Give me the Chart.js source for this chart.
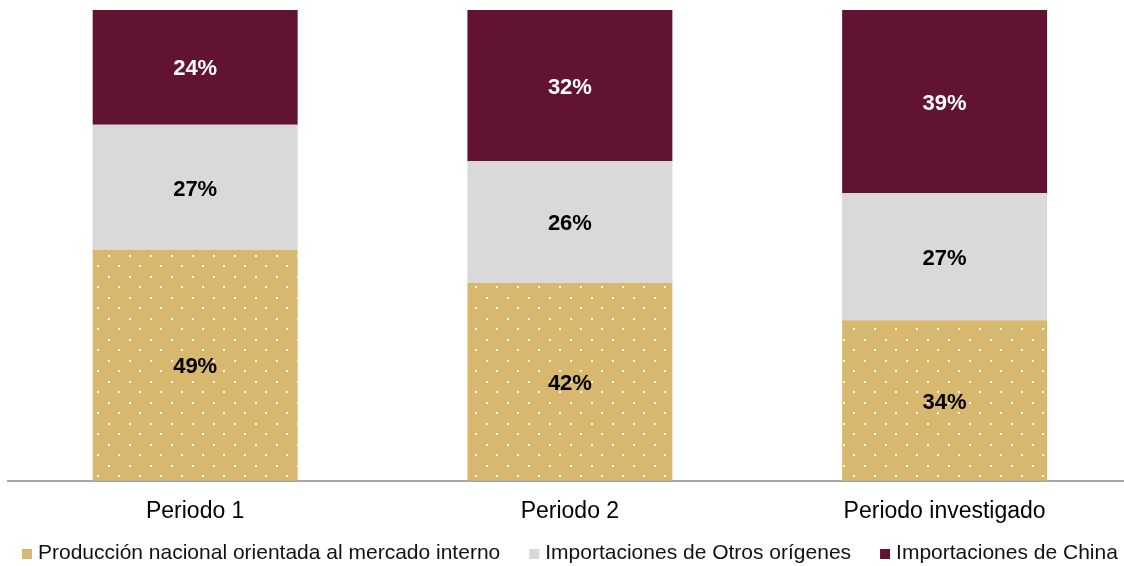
<!DOCTYPE html>
<html><head><meta charset="utf-8">
<script src="https://cdn.jsdelivr.net/npm/chart.js@4"></script>
<style>html,body{margin:0;padding:0;overflow:hidden;background:#fff}</style>
</head>
<body>
<canvas id="c" width="1134" height="566"></canvas>
<script>
const categories = ['Periodo 1', 'Periodo 2', 'Periodo investigado'];
const seriesNames = ['Producción nacional orientada al mercado interno', 'Importaciones de Otros orígenes', 'Importaciones de China'];
const produccion = [49.0, 42.0, 34.1];
const otros = [26.6, 25.9, 27.0];
const china = [24.4, 32.1, 38.9];

const TAN = '#D8B76F';
const GRAY = '#D9D9D9';
const WINE = '#621333';
const FONT = '"Liberation Sans", Arial, sans-serif';

function dotPattern() {
  const t = document.createElement('canvas');
  t.width = 21; t.height = 21;
  const g = t.getContext('2d');
  g.fillStyle = TAN; g.fillRect(0, 0, 21, 21);
  g.fillStyle = 'rgba(255,255,255,0.92)';
  g.fillRect(3, 3, 2, 2);
  g.fillRect(13, 13, 2, 2);
  return document.getElementById('c').getContext('2d').createPattern(t, 'repeat');
}

const labelPlugin = {
  id: 'segLabels',
  afterDatasetsDraw(chart) {
    const ctx = chart.ctx;
    ctx.save();
    ctx.font = 'bold 22px ' + FONT;
    ctx.textAlign = 'center';
    ctx.textBaseline = 'middle';
    chart.data.datasets.forEach((ds, di) => {
      const meta = chart.getDatasetMeta(di);
      meta.data.forEach((el, i) => {
        ctx.fillStyle = di === 2 ? '#FFFFFF' : '#000000';
        ctx.fillText(Math.round(ds.data[i]) + '%', el.x, (el.y + el.base) / 2 + 2);
      });
    });
    ctx.restore();
  }
};

const legendPlugin = {
  id: 'customLegend',
  afterDraw(chart) {
    const ctx = chart.ctx;
    const cols = [TAN, GRAY, WINE];
    const box = 10, gapText = 6, gapItem = 29, yC = 553;
    ctx.save();
    ctx.font = '21px ' + FONT;
    ctx.textBaseline = 'middle';
    ctx.textAlign = 'left';
    const widths = chart.data.datasets.map(d => ctx.measureText(d.label).width);
    const total = widths.reduce((a, w) => a + box + gapText + w, 0) + gapItem * (widths.length - 1);
    const cx = (chart.chartArea.left + chart.chartArea.right) / 2;
    let x = cx - total / 2;
    chart.data.datasets.forEach((d, i) => {
      ctx.fillStyle = cols[i];
      ctx.fillRect(x, yC - box / 2 + 1, box, box);
      ctx.fillStyle = '#111111';
      ctx.fillText(d.label, x + box + gapText, yC);
      x += box + gapText + widths[i] + gapItem;
    });
    ctx.restore();
  }
};

new Chart(document.getElementById('c'), {
  type: 'bar',
  data: {
    labels: categories,
    datasets: [
      { label: seriesNames[0], data: produccion, backgroundColor: dotPattern() },
      { label: seriesNames[1], data: otros, backgroundColor: GRAY },
      { label: seriesNames[2], data: china, backgroundColor: WINE }
    ]
  },
  options: {
    responsive: false,
    animation: false,
    devicePixelRatio: 1,
    layout: { padding: { top: 10, left: 7.8, right: 2, bottom: 30.5 } },
    datasets: { bar: { categoryPercentage: 1, barPercentage: 0.547, borderWidth: 0 } },
    plugins: {
      tooltip: { enabled: false },
      legend: { display: false }
    },
    scales: {
      x: {
        stacked: true,
        grid: { display: false, drawTicks: false },
        border: { display: true, color: '#A6A6A6', width: 2 },
        ticks: { color: '#000', padding: 17.5, font: { family: FONT, size: 23 } },
        afterFit(scale) { scale.height = 54.8; }
      },
      y: { stacked: true, display: false, min: 0, max: 100 }
    }
  },
  plugins: [labelPlugin, legendPlugin]
});
</script>
</body></html>
